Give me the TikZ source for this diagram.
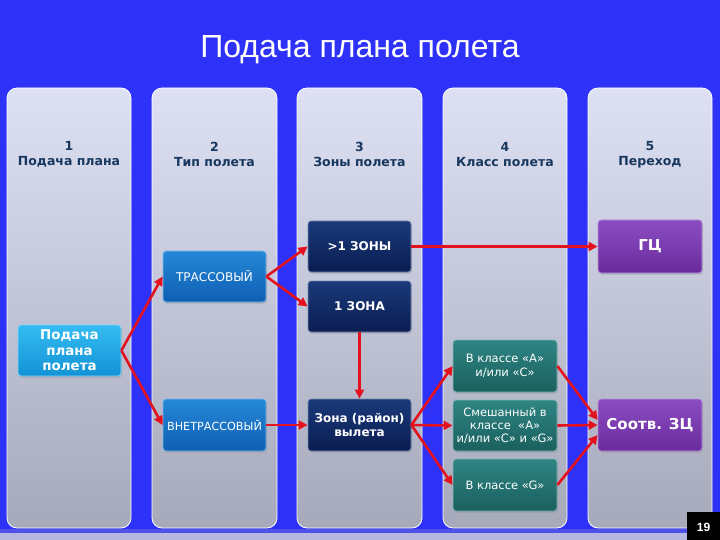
\documentclass[tikz,border=0pt]{standalone}
\usepackage{fontspec}
\setmainfont{DejaVu Sans}
\newfontfamily\titlefont{Liberation Sans}
\usetikzlibrary{arrows.meta,calc,shadows}
\definecolor{bg}{HTML}{2E31F8}
\definecolor{paneltop}{HTML}{DDE1F3}
\definecolor{panelbot}{HTML}{A6A9BA}
\definecolor{hdr}{HTML}{17375E}
\definecolor{arr}{HTML}{E4121E}
\definecolor{cyanT}{HTML}{34BBF2}
\definecolor{cyanB}{HTML}{1393D6}
\definecolor{blueT}{HTML}{2588D8}
\definecolor{blueB}{HTML}{0F5FB2}
\definecolor{navyT}{HTML}{1A3A7A}
\definecolor{navyB}{HTML}{0A1D52}
\definecolor{tealT}{HTML}{2F8583}
\definecolor{tealB}{HTML}{1A605E}
\definecolor{purT}{HTML}{8A4CC2}
\definecolor{purB}{HTML}{6A2C9C}
\definecolor{stripA}{HTML}{4E52E6}
\definecolor{stripB}{HTML}{B6B8E0}
\tikzset{
  panel/.style={rounded corners=10pt, top color=paneltop, bottom color=panelbot, draw=white, line width=0.8pt},
  hdrtext/.style={text=hdr, font=\bfseries\fontsize{12.5}{15}\selectfont, align=center},
  box/.style={rounded corners=3pt, minimum width=103pt, minimum height=51pt, inner sep=1pt,
    align=center, text=white, line width=0.8pt,
    drop shadow={opacity=0.35, shadow xshift=1pt, shadow yshift=-1.5pt}},
  cyanbox/.style={box, top color=cyanT, bottom color=cyanB, draw=cyanT!60!white},
  bluebox/.style={box, top color=blueT, bottom color=blueB, draw=blueT!60!white},
  navybox/.style={box, top color=navyT, bottom color=navyB, draw=navyT!60!white},
  tealbox/.style={box, top color=tealT, bottom color=tealB, draw=tealT!60!white},
  purbox/.style={box, top color=purT, bottom color=purB, draw=purT!60!white},
  link/.style={draw=arr, line width=2.6pt, -{Triangle[length=9pt,width=9pt]}}
}
\begin{document}
\begin{tikzpicture}[x=1pt,y=-1pt]
\fill[bg] (0,0) rectangle (720,540);
\useasboundingbox (0,0) rectangle (720,540);
% bottom strip
\fill[stripA] (0,529) rectangle (720,533);
\fill[stripB] (0,533) rectangle (720,540);
% title
\node[text=white, font=\titlefont\fontsize{32}{36}\selectfont] (title) at (360,50) {Подача плана полета};
% panels
\draw[panel] (7,88) rectangle (131,528);
\draw[panel] (152,88) rectangle (277,528);
\draw[panel] (297,88) rectangle (422,528);
\draw[panel] (443,88) rectangle (567,528);
\draw[panel] (588,88) rectangle (712,528);
% headers
\node[hdrtext] (h1) at (69,154.5) {1\\Подача плана};
\node[hdrtext] (h2) at (214.5,154.5) {2\\Тип полета};
\node[hdrtext] (h3) at (359.5,154.5) {3\\Зоны полета};
\node[hdrtext] (h4) at (505,154.5) {4\\Класс полета};
\node[hdrtext] (h5) at (650,154.5) {5\\Переход};
% boxes
\node[cyanbox, font=\bfseries\fontsize{13.4}{15.5}\selectfont] (pod) at (69.5,350.5) {Подача\\плана\\полета};
\node[bluebox, font=\fontsize{12}{14}\selectfont] (tr) at (214.5,276.5) {ТРАССОВЫЙ};
\node[bluebox, font=\fontsize{11.2}{13}\selectfont, minimum height=52pt] (vne) at (214.5,425) {ВНЕТРАССОВЫЙ};
\node[navybox, font=\bfseries\fontsize{12}{14}\selectfont] (z1) at (359.5,246.5) {>1 ЗОНЫ};
\node[navybox, font=\bfseries\fontsize{12}{14}\selectfont] (z2) at (359.5,306.5) {1 ЗОНА};
\node[navybox, font=\bfseries\fontsize{12}{14}\selectfont, minimum height=52pt] (zv) at (359.5,425) {Зона (район)\\вылета};
\node[tealbox, font=\fontsize{11.5}{14}\selectfont, minimum width=104pt, minimum height=52pt] (ca) at (505,366) {В классе «А»\\и/или «С»};
\node[tealbox, font=\fontsize{11.5}{13}\selectfont, minimum width=104pt] (cm) at (505,425.5) {Смешанный в\\классе~~«А»\\и/или «С» и «G»};
\node[tealbox, font=\fontsize{11.5}{14}\selectfont, minimum width=104pt, minimum height=52pt] (cg) at (505,485) {В классе «G»};
\node[purbox, font=\bfseries\fontsize{15}{17}\selectfont, minimum width=104pt, minimum height=53pt] (gc) at (650,246.5) {ГЦ};
\node[purbox, font=\bfseries\fontsize{15}{17}\selectfont, minimum width=104pt, minimum height=52pt] (zc) at (650,425) {Соотв. ЗЦ};
% connectors
\draw[link] (pod.east) -- (tr.west);
\draw[link] (pod.east) -- (vne.west);
\draw[link] (tr.east) -- (z1.west);
\draw[link] (tr.east) -- (z2.west);
\draw[link] (z1.east) -- (gc.west);
\draw[link] (z2.south) -- (zv.north);
\draw[link] (vne.east) -- (zv.west);
\draw[link] (zv.east) -- (ca.west);
\draw[link] (zv.east) -- (cm.west);
\draw[link] (zv.east) -- (cg.west);
\draw[link] (ca.east) -- ($(zc.west)+(0,-5)$);
\draw[link] (cm.east) -- (zc.west);
\draw[link] (cg.east) -- ($(zc.west)+(0,10)$);
% page number
\fill[black] (687,512) rectangle (720,540);
\node[text=white, font=\titlefont\bfseries\fontsize{12}{14}\selectfont] (pn) at (703.5,527) {19};
\end{tikzpicture}
\end{document}
